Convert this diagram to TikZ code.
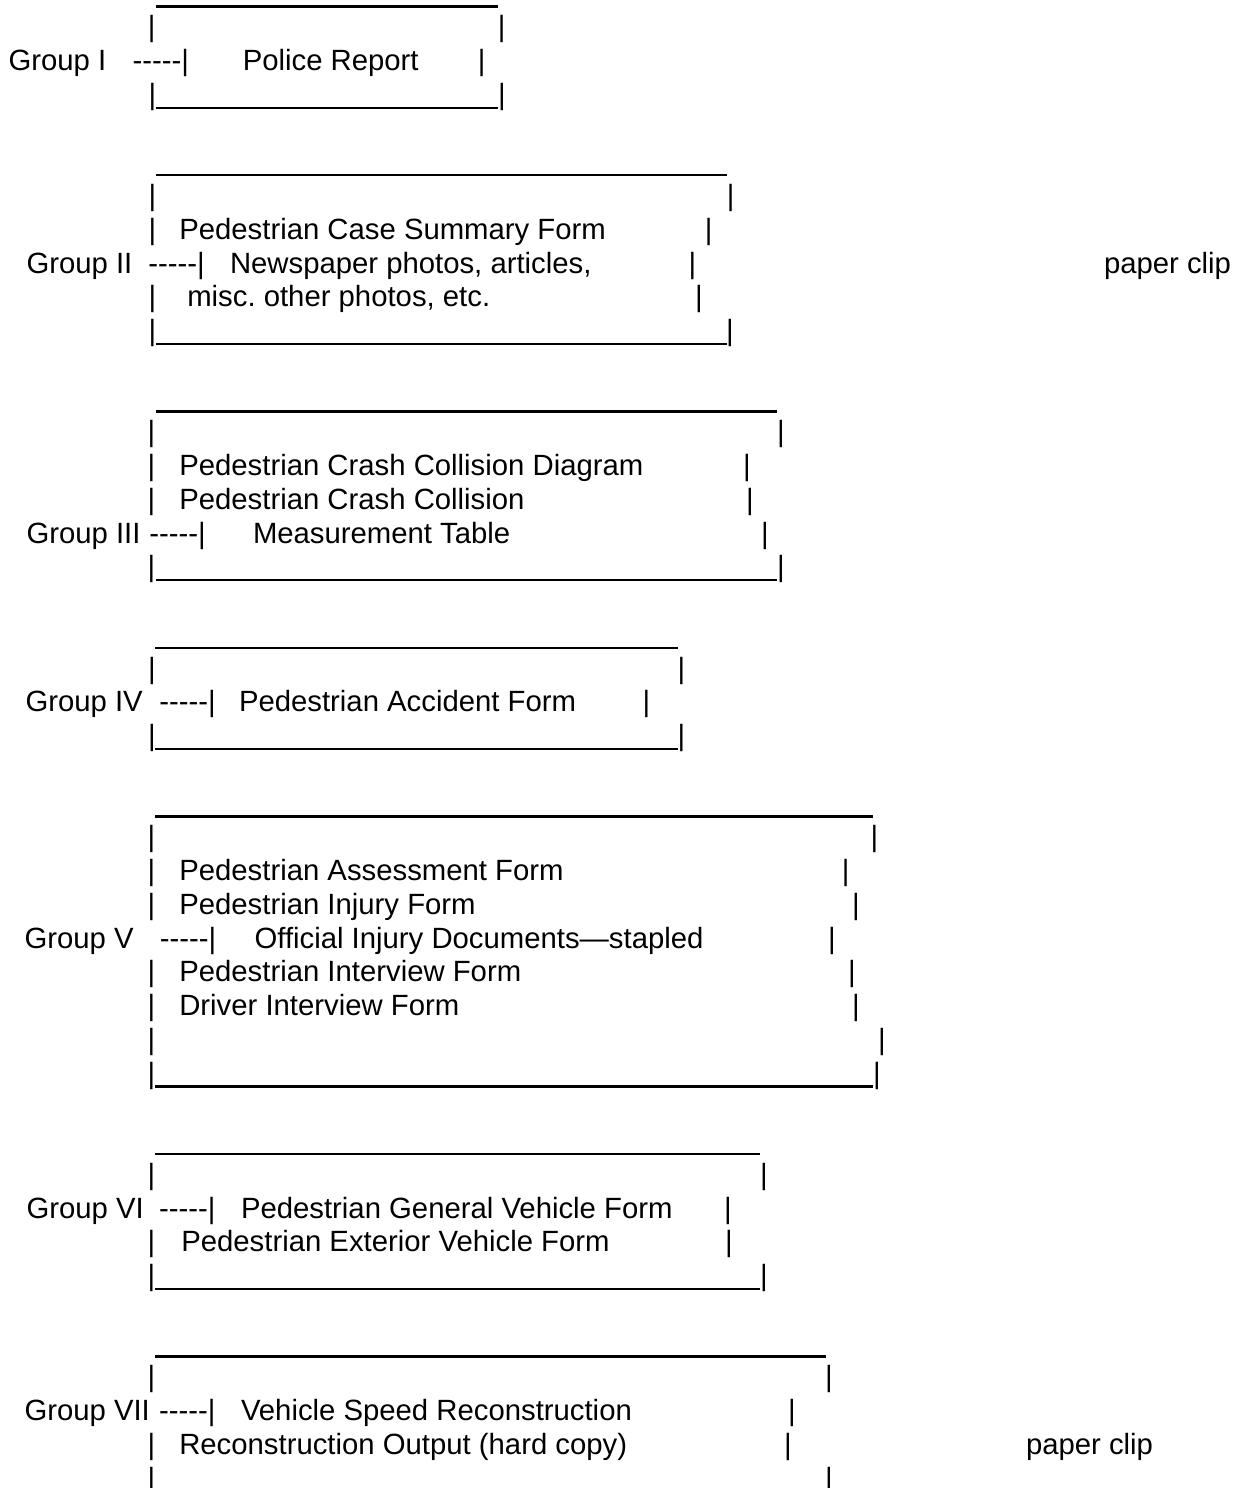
\documentclass[tikz,border=0pt]{standalone}
\usepackage{fontspec}
\setmainfont{Liberation Sans}[Ligatures=TeXOff]
\newcommand\fs{\fontsize{29.3pt}{33.75pt}\selectfont\frenchspacing}
% y of the baseline of text row #1
\newcommand\RowY[1]{{3+#1*33.75}}
\newcommand\Bar[3]{\node[barglyph] (#1) at (#2,\RowY{#3}) {|};}
\newcommand\Txt[4]{\node[txt] (#1) at (#2,\RowY{#3}) {#4};}
\newcommand\Rule[4]{\draw[rulestroke] (#2,{6.5+#4*33.75}) coordinate (#1a) -- (#3,{6.5+#4*33.75}) coordinate (#1b);}
\begin{document}
\begin{tikzpicture}[x=1pt,y=-1pt,
  txt/.style={anchor=base west,inner sep=0pt,outer sep=0pt,font=\fs},
  barglyph/.style={anchor=base,inner sep=0pt,outer sep=0pt,font=\fs},
  rulestroke/.style={line width=2.3pt,line cap=butt}]
\useasboundingbox (0,0) rectangle (1246,1488);
\fill[white] (0,0) rectangle (1246,1488);

% Group I
\Rule{r0}{155.7}{498}{0}
\Bar{b1l}{151.7}{1} \Bar{b1r}{501.7}{1}
\Txt{g1}{8.6}{2}{Group I}
\Txt{d1}{132.7}{2}{-----|}
\Txt{t2}{242.8}{2}{Police Report}
\Bar{b2r}{481.7}{2}
\Bar{b3l}{152.5}{3} \Rule{r3}{155.7}{498}{3} \Bar{b3r}{502}{3}

% Group II
\Rule{r5}{156}{727}{5}
\Bar{b6l}{152.4}{6} \Bar{b6r}{730.7}{6}
\Bar{b7l}{152.4}{7} \Txt{t7}{179.3}{7}{Pedestrian Case Summary Form} \Bar{b7r}{708.7}{7}
\Txt{g2}{26.5}{8}{Group II}
\Txt{d2}{148.4}{8}{-----|}
\Txt{t8}{230}{8}{Newspaper photos, articles,}
\Bar{b8r}{692.3}{8}
\Txt{p1}{1104}{8}{paper clip}
\Bar{b9l}{152.4}{9} \Txt{t9}{187.3}{9}{misc. other photos, etc.} \Bar{b9r}{699}{9}
\Bar{b10l}{152.4}{10} \Rule{r10}{156}{727}{10} \Bar{b10r}{730}{10}

% Group III
\Rule{r12}{155.5}{777}{12}
\Bar{b13l}{151.5}{13} \Bar{b13r}{781}{13}
\Bar{b14l}{151.5}{14} \Txt{t14}{179.3}{14}{Pedestrian Crash Collision Diagram} \Bar{b14r}{747}{14}
\Bar{b15l}{151.5}{15} \Txt{t15}{179.3}{15}{Pedestrian Crash Collision} \Bar{b15r}{750}{15}
\Txt{g3}{26.5}{16}{Group III}
\Txt{d3}{149.3}{16}{-----|}
\Txt{t16}{253}{16}{Measurement Table}
\Bar{b16r}{765}{16}
\Bar{b17l}{151.5}{17} \Rule{r17}{155.5}{777}{17} \Bar{b17r}{781}{17}

% Group IV
\Rule{r19}{155.4}{678.4}{19}
\Bar{b20l}{152}{20} \Bar{b20r}{681.4}{20}
\Txt{g4}{25.5}{21}{Group IV}
\Txt{d4}{159.3}{21}{-----|}
\Txt{t21}{239}{21}{Pedestrian Accident Form}
\Bar{b21r}{646.5}{21}
\Bar{b22l}{152}{22} \Rule{r22}{155.4}{678.4}{22} \Bar{b22r}{681.4}{22}

% Group V
\Rule{r24}{155.4}{873}{24}
\Bar{b25l}{151.5}{25} \Bar{b25r}{874.5}{25}
\Bar{b26l}{151.5}{26} \Txt{t26}{179.3}{26}{Pedestrian Assessment Form} \Bar{b26r}{845.7}{26}
\Bar{b27l}{151.5}{27} \Txt{t27}{179.3}{27}{Pedestrian Injury Form} \Bar{b27r}{856}{27}
\Txt{g5}{24.5}{28}{Group V}
\Txt{d5}{159.8}{28}{-----|}
\Txt{t28}{254.6}{28}{Official Injury Documents—stapled}
\Bar{b28r}{832}{28}
\Bar{b29l}{151.5}{29} \Txt{t29}{179.3}{29}{Pedestrian Interview Form} \Bar{b29r}{852}{29}
\Bar{b30l}{151.5}{30} \Txt{t30}{179.3}{30}{Driver Interview Form} \Bar{b30r}{856}{30}
\Bar{b31l}{151.5}{31} \Bar{b31r}{882}{31}
\Bar{b32l}{151.5}{32} \Rule{r32}{155.4}{873}{32} \Bar{b32r}{877}{32}

% Group VI
\Rule{r34}{155.4}{760}{34}
\Bar{b35l}{151.5}{35} \Bar{b35r}{764}{35}
\Txt{g6}{26.5}{36}{Group VI}
\Txt{d6}{159}{36}{-----|}
\Txt{t36}{241}{36}{Pedestrian General Vehicle Form}
\Bar{b36r}{728}{36}
\Bar{b37l}{151.5}{37} \Txt{t37}{181.3}{37}{Pedestrian Exterior Vehicle Form} \Bar{b37r}{729}{37}
\Bar{b38l}{151.5}{38} \Rule{r38}{155.4}{760}{38} \Bar{b38r}{764}{38}

% Group VII
\Rule{r40}{155.4}{826}{40}
\Bar{b41l}{151.5}{41} \Bar{b41r}{829}{41}
\Txt{g7}{24.5}{42}{Group VII}
\Txt{d7}{159}{42}{-----|}
\Txt{t42}{241}{42}{Vehicle Speed Reconstruction}
\Bar{b42r}{792}{42}
\Bar{b43l}{151.5}{43} \Txt{t43}{179.3}{43}{Reconstruction Output (hard copy)} \Bar{b43r}{788}{43}
\Txt{p2}{1026}{43}{paper clip}
\Bar{b44l}{151.5}{44} \Bar{b44r}{829}{44}
\end{tikzpicture}
\end{document}
